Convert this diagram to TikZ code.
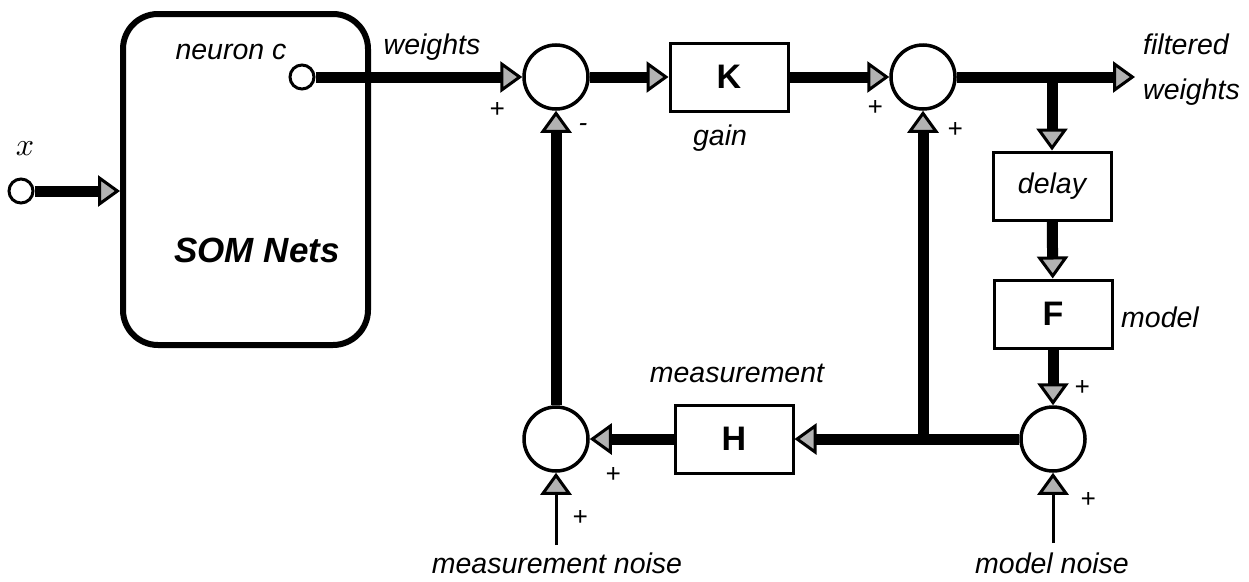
\documentclass[tikz,border=0pt]{standalone}
\usepackage{fontspec}
\setmainfont{Liberation Sans}
\usetikzlibrary{arrows.meta}
\tikzset{
  hatched/.tip={Triangle[length=22pt,width=31pt,fill=gray!60,line width=3pt]},
  wire/.style={line width=11pt,-{hatched}},
  thinwire/.style={line width=3pt,-{hatched}},
  sumnode/.style={circle,draw,line width=3.5pt,fill=white,minimum size=64pt,inner sep=0pt},
  port/.style={circle,draw,line width=3pt,fill=white,minimum size=24pt,inner sep=0pt},
  blk/.style={rectangle,draw,line width=3pt,fill=white,minimum width=118pt,minimum height=68pt,inner sep=0pt,
    font=\fontsize{34}{38}\selectfont\bfseries},
  somblock/.style={rectangle,draw,line width=6pt,rounded corners=35pt,minimum width=245pt,minimum height=331pt,inner sep=0pt},
  lbl/.style={inner sep=0pt,font=\fontsize{28.5}{32}\selectfont\itshape},
  sgn/.style={inner sep=0pt,font=\fontsize{26}{28}\selectfont\itshape}
}
\begin{document}
\begin{tikzpicture}[x=1pt,y=-1pt]
\useasboundingbox (0,0) rectangle (1249,581);

% self-organising map block and its ports
\node[somblock] (som) at (245.5,179.5) {};
\node[inner sep=0pt,font=\fontsize{35}{38}\selectfont\bfseries\itshape] (somtxt) at (257,250) {SOM Nets};
\node[port] (xin) at (21,191) {};
\node[port] (nc) at (302,77) {};

% summing junctions
\node[sumnode] (s1) at (556,77) {};
\node[sumnode] (s2) at (923,77) {};
\node[sumnode] (s3) at (1053,439) {};
\node[sumnode] (s4) at (556,439) {};

% transfer blocks
\node[blk] (K) at (729,77) {K};
\node[blk] (H) at (734,439) {H};
\node[blk,font=\fontsize{28.5}{32}\selectfont\itshape] (D) at (1052,186) {delay};
\node[blk] (F) at (1053,314) {F};

% free ends and branch points
\coordinate (out) at (1135,77);
\coordinate (j1) at (1052,77);
\coordinate (j2) at (923,439);
\coordinate (mn) at (556,545);
\coordinate (dn) at (1053,543);

% signal paths
\draw[wire] (xin) -- (xin -| som.west);
\draw[wire] (nc) -- (s1);
\draw[wire] (s1) -- (K);
\draw[wire] (K) -- (s2);
\draw[wire] (s2) -- (out);
\draw[wire] (j1) -- (D);
\draw[wire] (D) -- (F);
\draw[wire] (F) -- (s3);
\draw[wire] (s3) -- (H);
\draw[wire] (j2) -- (s2);
\draw[wire] (H) -- (s4);
\draw[wire] (s4) -- (s1);
\draw[thinwire] (mn) -- (s4);
\draw[thinwire] (dn) -- (s3);

% labels
\node[inner sep=0pt,scale=3.2] (lx) at (25,149) {$x$};
\node[lbl] (lnc) at (231,52) {neuron c};
\node[lbl] (lw) at (432,47) {weights};
\node[lbl] (lg) at (720,138) {gain};
\node[lbl,anchor=west] (lf1) at (1143,44) {filtered};
\node[lbl,anchor=west] (lf2) at (1143,92) {weights};
\node[lbl] (lmod) at (1160,317) {model};
\node[lbl] (lmeas) at (737,373) {measurement};
\node[lbl] (lmn) at (557,563) {measurement noise};
\node[lbl] (ldn) at (1052,563) {model noise};

% signs at the junction inputs
\node[sgn] at (497,110) {+};
\node[sgn] at (583,128) {-};
\node[sgn] at (875,108) {+};
\node[sgn] at (955,130) {+};
\node[sgn] at (1082,388) {+};
\node[sgn] at (1088,500) {+};
\node[sgn] at (613,475) {+};
\node[sgn] at (580,518) {+};
\end{tikzpicture}
\end{document}
